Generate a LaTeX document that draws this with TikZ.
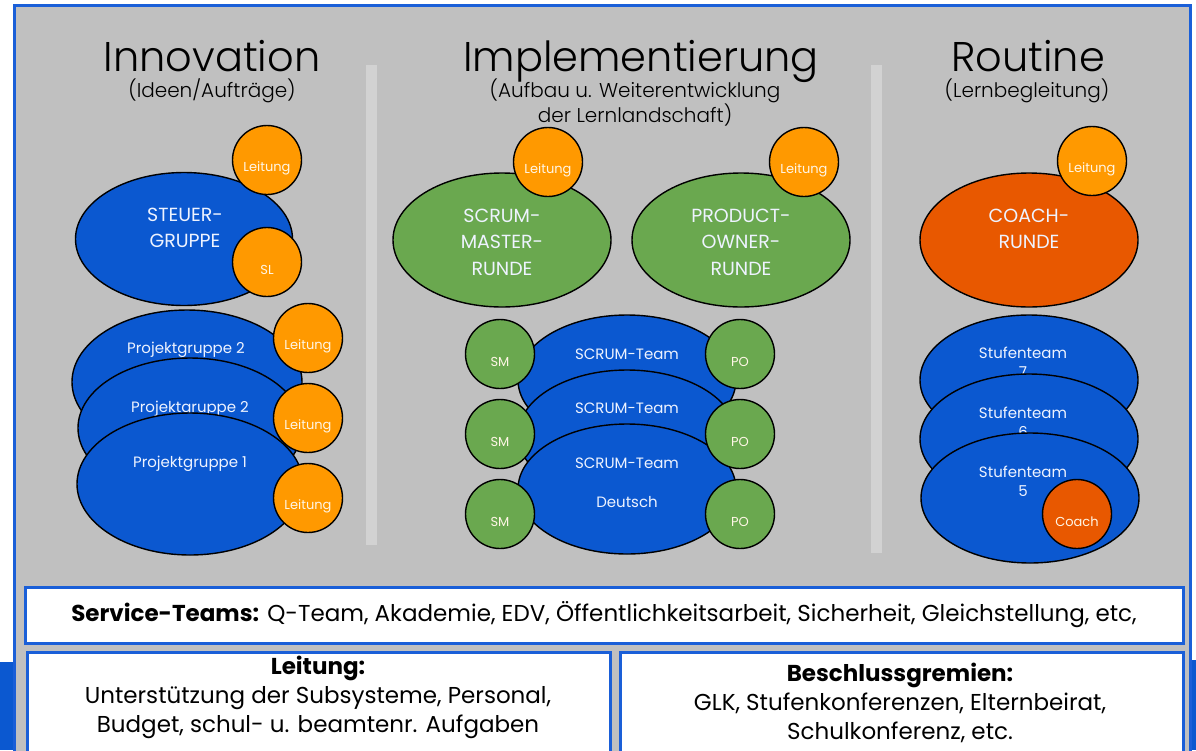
\documentclass[tikz,border=0pt]{standalone}
\usepackage{fontspec}
\setmainfont{Poppins}
\newfontfamily\lightfont{Poppins}[UprightFont=* Light, BoldFont=* SemiBold]
\usetikzlibrary{shapes.geometric}
\definecolor{bgray}{HTML}{C0C0C0}
\definecolor{sepgray}{HTML}{D2D2D2}
\definecolor{tblue}{HTML}{0B58D0}
\definecolor{fblue}{HTML}{1A5FD8}
\definecolor{tgreen}{HTML}{6AA84F}
\definecolor{torange}{HTML}{FF9900}
\definecolor{tred}{HTML}{E85800}
\definecolor{cream}{HTML}{FFF6E6}
\definecolor{lwhite}{HTML}{EEF3FF}
\newcommand{\fs}[2]{\fontsize{#1}{#2}\selectfont}
\begin{document}
\begin{tikzpicture}[x=1pt,y=-1pt,
  ell/.style={ellipse, draw=black, line width=1.4pt, inner sep=0pt},
  circ/.style={circle, draw=black, line width=1.4pt, inner sep=0pt, minimum size=69pt},
  lbl/.style={text=cream, inner sep=0pt, font=\fs{13}{15}},
  etxt/.style={text=lwhite, inner sep=0pt, align=center},
  head/.style={text=black, inner sep=0pt, anchor=base, font=\lightfont\fs{41.5}{45}},
  sub/.style={text=black, inner sep=0pt, anchor=base, font=\lightfont\fs{20}{25}},
  boxtxt/.style={text=black, inner sep=0pt, align=center, font=\fs{23}{29}},
  frame/.style={draw=fblue, line width=3pt, fill=white}
]
\useasboundingbox (0,0) rectangle (1196,750);
\fill[white] (0,0) rectangle (1196,750);
\fill[tblue] (0,662) rectangle (13,750);
\fill[tblue] (1191,660) rectangle (1196,750);
\draw[fblue, line width=3pt, fill=bgray] (14,5.5) rectangle (1190,770);
\fill[sepgray] (366,65) rectangle (377,545);
\fill[sepgray] (871,65) rectangle (882,553);

% headings
\node[head] (h1) at (212,71) {Innovation};
\node[sub] (s1) at (212,97) {(Ideen/Aufträge)};
\node[head] (h2) at (641,71) {Implementierung};
\node[sub] (s2) at (635,97) {(Aufbau u. Weiterentwicklung};
\node[sub] (s2b) at (635,122) {der Lernlandschaft)};
\node[head] (h3) at (1028,71) {Routine};
\node[sub] (s3) at (1027,97) {(Lernbegleitung)};

% Innovation
\node[ell, fill=tblue, minimum width=217pt, minimum height=133pt] (steuer) at (184,239) {};
\node[etxt, font=\fs{19}{26}] (steuert) at (185,228) {STEUER-\\GRUPPE};
\node[ell, fill=tblue, minimum width=230pt, minimum height=144pt] (pg3) at (187,382) {};
\node[etxt, font=\fs{15}{18}] (pg3t) at (186,350) {Projektgruppe 2};
\node[ell, fill=tblue, minimum width=224pt, minimum height=140pt] (pg2) at (190,428) {};
\node[etxt, font=\fs{15}{18}] (pg2t) at (190,409) {Projektgruppe 2};
\node[ell, fill=tblue, minimum width=226pt, minimum height=142pt] (pg1) at (190,484) {};
\node[etxt, font=\fs{15}{18}] (pg1t) at (190,464) {Projektgruppe 1};
\node[circ, fill=torange] (l1) at (267,160) {};
\node[lbl] at ([yshift=-8pt]l1.center) (l1t) {Leitung};
\node[circ, fill=torange] (sl) at (267,262) {};
\node[lbl] at ([yshift=-8pt]sl.center) (slt) {SL};
\node[circ, fill=torange] (l2) at (308,338) {};
\node[lbl] at ([yshift=-8pt]l2.center) (l2t) {Leitung};
\node[circ, fill=torange] (l3) at (308,418) {};
\node[lbl] at ([yshift=-8pt]l3.center) (l3t) {Leitung};
\node[circ, fill=torange] (l4) at (308,498) {};
\node[lbl] at ([yshift=-8pt]l4.center) (l4t) {Leitung};

% Implementierung
\node[ell, fill=tgreen, minimum width=218pt, minimum height=134pt] (smr) at (502,240) {};
\node[etxt, font=\fs{19}{26.5}] (smrt) at (502,242) {SCRUM-\\MASTER-\\RUNDE};
\node[ell, fill=tgreen, minimum width=218pt, minimum height=134pt] (por) at (741,240) {};
\node[etxt, font=\fs{19}{26.5}] (port) at (741,242) {PRODUCT-\\OWNER-\\RUNDE};
\node[circ, fill=torange] (l5) at (548,162) {};
\node[lbl] at ([yshift=-8pt]l5.center) (l5t) {Leitung};
\node[circ, fill=torange] (l6) at (804,162) {};
\node[lbl] at ([yshift=-8pt]l6.center) (l6t) {Leitung};

\node[ell, fill=tblue, minimum width=218pt, minimum height=130pt] (st3) at (627,380) {};
\node[etxt, font=\fs{15}{18}] (st3t) at (627,354) {SCRUM-Team};
\node[ell, fill=tblue, minimum width=218pt, minimum height=130pt] (st2) at (627,435) {};
\node[etxt, font=\fs{15}{18}] (st2t) at (627,408) {SCRUM-Team};
\node[ell, fill=tblue, minimum width=218pt, minimum height=130pt] (st1) at (627,489) {};
\node[etxt, font=\fs{15}{18}] (st1t) at (627,463) {SCRUM-Team};
\node[etxt, font=\fs{15}{18}] (st1d) at (627,502) {Deutsch};
\foreach \i/\yy in {1/354,2/434,3/514}{
  \node[circ, fill=tgreen] (sm\i) at (500,\yy) {};
  \node[lbl] (sm\i t) at ([yshift=-8pt]sm\i.center) {SM};
  \node[circ, fill=tgreen] (po\i) at (740,\yy) {};
  \node[lbl] (po\i t) at ([yshift=-8pt]po\i.center) {PO};
}

% Routine
\node[ell, fill=tred, minimum width=218pt, minimum height=134pt] (cr) at (1029,240) {};
\node[etxt, font=\fs{19}{26}] (crt) at (1029,229) {COACH-\\RUNDE};
\node[circ, fill=torange] (l7) at (1092,161) {};
\node[lbl] at ([yshift=-8pt]l7.center) (l7t) {Leitung};

\node[ell, fill=tblue, minimum width=218pt, minimum height=130pt] (su7) at (1029,380) {};
\node[etxt, font=\fs{15}{19}] (su7t) at (1023,362) {Stufenteam\\7};
\node[ell, fill=tblue, minimum width=218pt, minimum height=130pt] (su6) at (1029,439) {};
\node[etxt, font=\fs{15}{19}] (su6t) at (1023,422) {Stufenteam\\6};
\node[ell, fill=tblue, minimum width=218pt, minimum height=130pt] (su5) at (1030,498) {};
\node[etxt, font=\fs{15}{19}] (su5t) at (1023,481) {Stufenteam\\5};
\node[circ, fill=tred] (co) at (1077,514) {};
\node[lbl] at ([yshift=-8pt]co.center) (cot) {Coach};

% bottom boxes
\draw[frame] (25,587) rectangle (1183,643);
\node[boxtxt] (svc) at (604,615) {\textbf{Service-Teams:} Q-Team, Akademie, EDV, Öffentlichkeitsarbeit, Sicherheit, Gleichstellung, etc,};
\draw[frame] (27,652) rectangle (610,770);
\node[boxtxt] (lei) at (318,697) {\textbf{Leitung:}\\Unterstützung der Subsysteme, Personal,\\Budget, schul- u. beamtenr. Aufgaben};
\draw[frame] (620,652) rectangle (1183,770);
\node[boxtxt] (bes) at (900,703) {\textbf{Beschlussgremien:}\\GLK, Stufenkonferenzen, Elternbeirat,\\Schulkonferenz, etc.};
\end{tikzpicture}
\end{document}
